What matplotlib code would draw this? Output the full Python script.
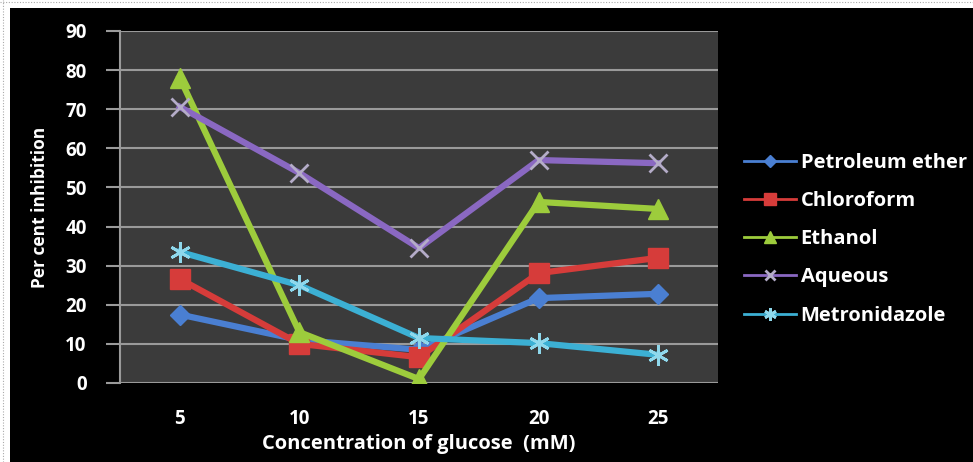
import matplotlib
matplotlib.use("Agg")
import matplotlib.pyplot as plt
from matplotlib.patches import Rectangle
from matplotlib.lines import Line2D

plt.rcParams['font.family'] = ['Open Sans', 'DejaVu Sans']

conc = ["5", "10", "15", "20", "25"]
pet_ether = [17.5, 11, 8.5, 21.7, 22.8]
chloroform = [26.6, 10, 6.6, 28.1, 32]
ethanol = [78, 13, 1, 46.3, 44.5]
aqueous = [70.6, 53.7, 34.5, 57, 56.2]
metronidazole = [33.5, 25, 11.5, 10.2, 7.2]

names = ["Petroleum ether", "Chloroform", "Ethanol", "Aqueous", "Metronidazole"]
series = [pet_ether, chloroform, ethanol, aqueous, metronidazole]
colors = ["#4a7fd2", "#d63c3a", "#9dcc3c", "#8a68c2", "#3cb0d4"]
edges = ["#4a7fd2", "#d63c3a", "#9dcc3c", "#b4acc8", "#8fd8ec"]
markers = ["D", "s", "^", "x", (6, 2, 0)]
msizes = [10, 14, 15, 13, 15]

W, H = 973, 462
fig = plt.figure(figsize=(W / 100, H / 100), dpi=100, facecolor="white")

# black chart background
fig.patches.append(Rectangle((10 / W, 0), 1 - 10 / W, 1 - 8 / H,
                             transform=fig.transFigure, facecolor="black",
                             edgecolor="none", zorder=-5))
# dotted page borders
fig.add_artist(Line2D([0, 1], [1 - 1.5 / H, 1 - 1.5 / H], transform=fig.transFigure,
                      color="#aaaaaa", lw=0.8, ls=(0, (1, 1.5))))
fig.add_artist(Line2D([2.5 / W, 2.5 / W], [0, 1], transform=fig.transFigure,
                      color="#aaaaaa", lw=0.8, ls=(0, (1, 1.5))))

ax = fig.add_axes([120 / W, 1 - 383 / H, 598 / W, 352 / H])
ax.set_zorder(2)
ax.set_facecolor("#3b3b3b")

x = list(range(len(conc)))
handles = []
for name, vals, c, ec, m, ms in zip(names, series, colors, edges, markers, msizes):
    mew = 2 if m in ("x", (6, 2, 0)) else 1
    h, = ax.plot(x, vals, color=c, lw=4.5, marker=m, markersize=ms,
                 markerfacecolor=c, markeredgecolor=ec, markeredgewidth=mew,
                 label=name, zorder=3)
    handles.append(h)

ax.set_xlim(-0.5, 4.5)
ax.set_ylim(0, 90)
ax.set_yticks(range(0, 91, 10))
ax.set_xticks(x)
ax.set_xticklabels(conc)
ax.yaxis.grid(True, color="#9a9a9a", lw=1.5)
ax.set_axisbelow(True)
for s in ["top", "right", "bottom"]:
    ax.spines[s].set_visible(False)
ax.spines["left"].set_color("#9a9a9a")
ax.spines["left"].set_linewidth(1.5)
ax.tick_params(axis="y", colors="#9a9a9a", length=10, width=1.5, pad=14,
               labelcolor="white", labelsize=13.5)
ax.tick_params(axis="x", length=0, pad=19, labelcolor="white", labelsize=13.5)
for t in ax.get_xticklabels() + ax.get_yticklabels():
    t.set_fontweight("bold")

ax.set_xlabel("Concentration of glucose  (mM)", color="white", fontsize=14.5,
              fontweight="bold", labelpad=3)
ax.set_ylabel("Per cent inhibition", color="white", fontsize=12.5,
              fontweight="bold", labelpad=12)

leg = fig.legend(handles=handles, loc="upper left",
                 bbox_to_anchor=(726 / W, 1 - 135 / H), frameon=False,
                 labelcolor="white", prop={"weight": "bold", "size": 14.5},
                 handlelength=2.6, handletextpad=0.2, labelspacing=0.9,
                 markerscale=0.6)
for lh in leg.legend_handles:
    lh.set_linewidth(2)

fig.savefig("out.png", dpi=100, facecolor="white")
